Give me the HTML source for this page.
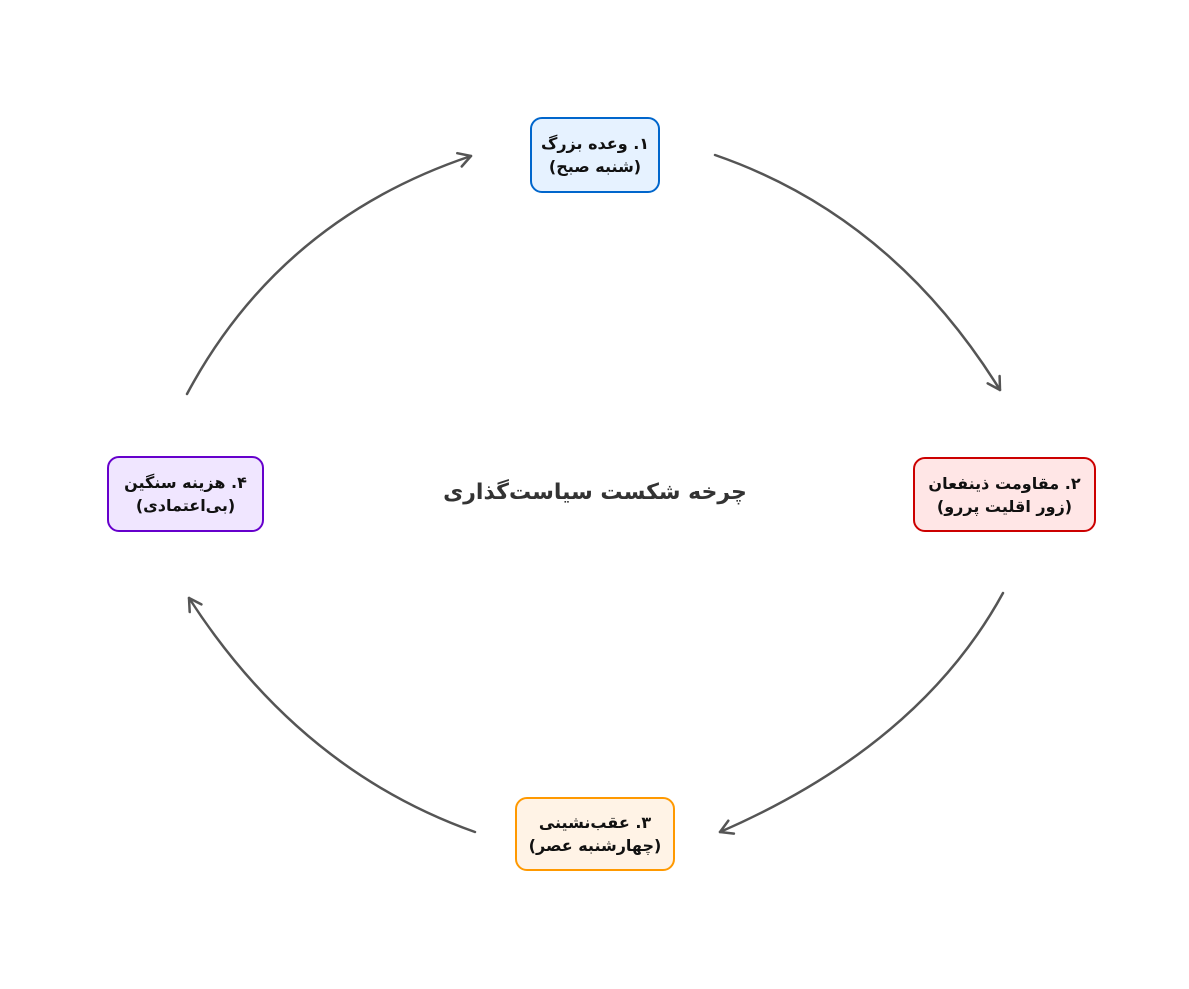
<!DOCTYPE html>
<html><head><meta charset="utf-8"><style>
html,body{margin:0;padding:0;background:#fff;width:1189px;height:989px;overflow:hidden;position:relative;font-family:"DejaVu Sans","Noto Sans CJK SC",sans-serif}
.b{position:absolute;box-sizing:border-box;border:2.5px solid;border-radius:12px;display:flex;align-items:center;justify-content:center;text-align:center;font-weight:bold;font-size:16px;line-height:23px;color:#111;direction:rtl}
.c{position:absolute;left:395px;top:480px;width:400px;text-align:center;font-weight:bold;font-size:22px;color:#333;direction:rtl}
</style></head><body>
<svg width="1189" height="989" style="position:absolute;left:0;top:0" fill="none" stroke="#555" stroke-width="2.5" stroke-linecap="round" stroke-linejoin="round">
<path d="M715,155 Q892,216 1000,390"/>
<path d="M999.6,376 L1000,390 L987.7,383.4"/>
<path d="M1003,593 Q920,745 720,832"/>
<path d="M733.9,833.6 L720,832 L728.3,820.7"/>
<path d="M475,832 Q300,770 189,598"/>
<path d="M189.7,612 L189,598 L201.4,604.4"/>
<path d="M187,394 Q280,220 471,156"/>
<path d="M457.3,153.2 L471,156 L461.7,166.5"/>
</svg>
<div class="b" style="left:530px;top:117px;width:130px;height:76px;border-color:#0066cc;background:#e6f2ff">۱. وعده بزرگ<br>(شنبه صبح)</div>
<div class="b" style="left:913px;top:457px;width:183px;height:75px;border-color:#cc0000;background:#ffe6e6">۲. مقاومت ذینفعان<br>(زور اقلیت پررو)</div>
<div class="b" style="left:515px;top:797px;width:160px;height:74px;border-color:#ff9900;background:#fff3e6">۳. عقب‌نشینی<br>(چهارشنبه عصر)</div>
<div class="b" style="left:107px;top:456px;width:157px;height:76px;border-color:#6600cc;background:#f0e6ff">۴. هزینه سنگین<br>(بی‌اعتمادی)</div>
<div class="c">چرخه شکست سیاست‌گذاری</div>
</body></html>
